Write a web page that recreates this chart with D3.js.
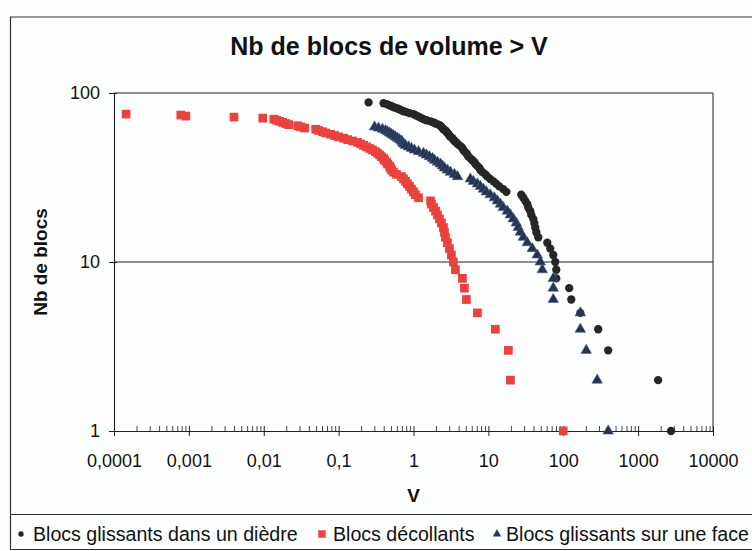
<!DOCTYPE html>
<html>
<head>
<meta charset="utf-8">
<script src="https://cdn.jsdelivr.net/npm/d3@7"></script>
<style>
  body { margin: 0; background: #ffffff; }
  svg text { font-family: "Liberation Sans", Arial, Helvetica, sans-serif; fill: #111; }
</style>
</head>
<body>
<svg id="chart" width="752" height="551"></svg>
<script>
// Cumulative block counts: number of blocks whose volume exceeds V
const seriesNames = ["Blocs glissants dans un dièdre", "Blocs décollants", "Blocs glissants sur une face"];

const diedreVolume = [0.251,0.398,0.437,0.464,0.494,0.525,0.558,0.612,0.651,0.692,
  0.736,0.807,0.885,1.00,1.06,1.13,1.20,1.28,1.36,1.49,
  1.69,1.85,1.97,2.15,2.29,2.36,2.44,2.51,2.67,2.75,
  2.84,2.93,3.02,3.11,3.31,3.41,3.52,3.74,3.86,4.11,
  4.37,4.50,4.64,4.79,5.09,5.25,5.41,5.75,6.12,6.51,
  6.71,7.14,7.59,7.82,8.32,9.12,9.70,10.6,11.7,12.8,
  14.0,15.8,17.4,27.5,29.3,31.1,33.1,34.1,36.3,37.4,
  39.8,41.1,42.3,43.7,46.4,61.2,67.1,73.6,78.2,80.7,
  80.7,120,128,169,293,398,1850,2750];
const diedreCount = [88,87,86,85,84,83,82,81,80,79,78,77,76,75,74,73,72,71,70,69,
  68,67,66,65,64,63,62,61,60,59,58,57,56,55,54,53,52,51,50,49,
  48,47,46,45,44,43,42,41,40,39,38,37,36,35,34,33,32,31,30,29,
  28,27,26,25,24,23,22,21,20,19,18,17,16,15,14,13,12,11,10,9,
  8,7,6,5,4,3,2,1];

const decollantVolume = [0.000145,0.00078,0.00091,0.0040,0.0097,0.0136,0.0149,0.0163,0.0179,0.0197,
  0.0215,0.0284,0.0311,0.0352,0.0494,0.0541,0.0612,0.0671,0.0782,0.0885,
  0.100,0.117,0.132,0.154,0.179,0.197,0.215,0.236,0.259,0.284,
  0.311,0.331,0.352,0.374,0.398,0.411,0.437,0.450,0.479,0.494,
  0.509,0.541,0.593,0.692,0.736,0.782,0.832,0.885,0.940,1.00,
  1.06,1.17,1.69,1.74,1.85,1.97,2.09,2.22,2.36,2.51,
  2.59,2.67,2.84,3.02,3.21,3.41,3.63,4.50,4.79,5.09,
  7.14,12.4,18.5,19.7,100];
const decollantCount = [75,74,73,72,71,70,69,68,67,66,65,64,63,62,61,60,59,58,57,56,
  55,54,53,52,51,50,49,48,47,46,45,44,43,42,41,40,39,38,37,36,
  35,34,33,32,31,30,29,28,27,26,25,24,23,22,21,20,19,18,17,16,
  15,14,13,12,11,10,9,8,7,6,5,4,3,2,1];

const faceVolume = [0.302,0.341,0.386,0.423,0.450,0.479,0.509,0.541,0.575,0.612,
  0.651,0.692,0.713,0.736,0.782,0.858,0.940,1.03,1.17,1.36,
  1.49,1.63,1.79,1.91,2.09,2.29,2.44,2.59,2.84,3.11,
  3.52,3.86,5.75,6.31,7.14,7.82,8.58,9.40,10.6,12.0,
  13.2,14.5,15.8,17.9,19.7,21.5,23.6,25.1,26.7,29.3,
  33.1,38.6,45.0,49.4,52.5,73.6,73.6,73.6,169,169,
  203,284,398];
const faceCount = [63,62,61,60,59,58,57,56,55,54,53,52,51,50,49,48,47,46,45,44,
  43,42,41,40,39,38,37,36,35,34,33,32,31,30,29,28,27,26,25,24,
  23,22,21,20,19,18,17,16,15,14,13,12,11,10,9,8,7,6,5,4,3,2,1];

const xTicks = [0.0001, 0.001, 0.01, 0.1, 1, 10, 100, 1000, 10000];
const yTicks = [1, 10, 100];

const svg = d3.select("#chart");
const W = 752, H = 551;
const plotLeft = 114, plotRight = 713, plotTop = 93, plotBottom = 431;

svg.append("rect").attr("width", W).attr("height", H).attr("fill", "#fdfefe");

// outer chart frame and legend band
svg.append("path")
  .attr("d", `M${W + 5},17 H10.5 V514.5`)
  .attr("fill", "none").attr("stroke", "#333").attr("stroke-width", 1.2);
svg.append("path")
  .attr("d", `M10.5,514.5 H${W + 5} M10.5,549.5 H${W + 5} M10.5,514.5 V549.5`)
  .attr("fill", "none").attr("stroke", "#333").attr("stroke-width", 1.2);

const x = d3.scaleLog().domain([1e-4, 1e4]).range([plotLeft, plotRight]);
const y = d3.scaleLog().domain([1, 100]).range([plotBottom, plotTop]);

// horizontal gridlines and plot border
const plot = svg.append("g");
plot.selectAll("line.grid").data(yTicks.slice(1)).join("line")
  .attr("x1", plotLeft).attr("x2", plotRight)
  .attr("y1", d => y(d)).attr("y2", d => y(d))
  .attr("stroke", "#222").attr("stroke-width", 1.1);
plot.append("line").attr("x1", plotRight).attr("x2", plotRight).attr("y1", plotTop).attr("y2", plotBottom)
  .attr("stroke", "#333").attr("stroke-width", 1.1);

const fmt = d => d < 1 ? String(d).replace(".", ",") : String(d);

// x axis: crossing major ticks, inside minor ticks
const minorX = [];
for (let e = -4; e < 4; e++) for (let k = 2; k <= 9; k++) minorX.push(k * Math.pow(10, e));

const xAxis = svg.append("g").attr("transform", `translate(0,${plotBottom})`)
  .call(d3.axisBottom(x).tickValues(xTicks).tickFormat(fmt).tickSizeInner(5).tickSizeOuter(0).tickPadding(18));
xAxis.select(".domain").attr("stroke", "#222").attr("stroke-width", 1.1);
xAxis.selectAll(".tick line").attr("stroke", "#222");
xAxis.selectAll("text").attr("font-size", 18).attr("fill", "#111");

svg.append("g").attr("transform", `translate(0,${plotBottom})`)
  .call(d3.axisTop(x).tickValues(xTicks).tickFormat("").tickSize(5))
  .call(g => g.select(".domain").remove())
  .selectAll(".tick line").attr("stroke", "#222");
svg.append("g").attr("transform", `translate(0,${plotBottom})`)
  .call(d3.axisTop(x).tickValues(minorX).tickFormat("").tickSize(5))
  .call(g => g.select(".domain").remove())
  .selectAll(".tick line").attr("stroke", "#333").attr("stroke-width", 0.9);

// y axis
const yAxis = svg.append("g").attr("transform", `translate(${plotLeft},0)`)
  .call(d3.axisLeft(y).tickValues(yTicks).tickFormat(d3.format("d")).tickSizeInner(5).tickSizeOuter(0).tickPadding(9));
yAxis.select(".domain").attr("stroke", "#222").attr("stroke-width", 1.1);
yAxis.selectAll(".tick line").attr("stroke", "#222");
yAxis.selectAll("text").attr("font-size", 18).attr("fill", "#111");
svg.append("g").attr("transform", `translate(${plotLeft},0)`)
  .call(d3.axisRight(y).tickValues(yTicks).tickFormat("").tickSize(3))
  .call(g => g.select(".domain").remove())
  .selectAll(".tick line").attr("stroke", "#222");

// titles
svg.append("text").attr("x", 389).attr("y", 55).attr("text-anchor", "middle")
  .attr("font-size", 25).attr("font-weight", "bold").text("Nb de blocs de volume > V");
svg.append("text").attr("transform", `translate(47,${(plotTop + plotBottom) / 2}) rotate(-90)`)
  .attr("text-anchor", "middle").attr("font-size", 19).attr("font-weight", "bold").text("Nb de blocs");
svg.append("text").attr("x", (plotLeft + plotRight) / 2).attr("y", 502).attr("text-anchor", "middle")
  .attr("font-size", 19).attr("font-weight", "bold").text("V");

// markers
const styles = [
  { vol: diedreVolume, cnt: diedreCount, sym: d3.symbolCircle, size: 54, fill: "#262626", stroke: "none" },
  { vol: decollantVolume, cnt: decollantCount, sym: d3.symbolSquare, size: 76, fill: "#e9423f", stroke: "none" },
  { vol: faceVolume, cnt: faceCount, sym: d3.symbolTriangle, size: 48, fill: "#28324a", stroke: "#3d5f9a" }
];
styles.forEach(s => {
  const pts = s.vol.map((v, i) => ({ v, n: s.cnt[i] }));
  svg.append("g").selectAll("path").data(pts).join("path")
    .attr("transform", d => `translate(${x(d.v)},${y(d.n)})`)
    .attr("d", d3.symbol().type(s.sym).size(s.size)())
    .attr("fill", s.fill).attr("stroke", s.stroke).attr("stroke-width", 0.6);
});

// legend
const legendItems = [
  { mx: 21, tx: 33, sym: d3.symbolCircle, size: 22, fill: "#262626", stroke: "none" },
  { mx: 322, tx: 333, sym: d3.symbolSquare, size: 56, fill: "#e9423f", stroke: "none" },
  { mx: 497, tx: 506, sym: d3.symbolTriangle, size: 26, fill: "#28324a", stroke: "#3d5f9a" }
];
const lg = svg.append("g");
legendItems.forEach((it, i) => {
  lg.append("path").attr("transform", `translate(${it.mx},534)`)
    .attr("d", d3.symbol().type(it.sym).size(it.size)())
    .attr("fill", it.fill).attr("stroke", it.stroke).attr("stroke-width", 0.6);
  lg.append("text").attr("x", it.tx).attr("y", 540.5).attr("font-size", 19.6).text(seriesNames[i]);
});
</script>
</body>
</html>
